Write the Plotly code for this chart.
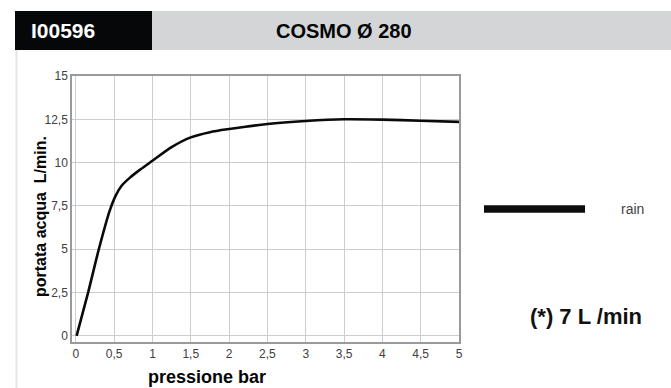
import plotly.graph_objects as go

# ---- data ----
pressure_bar = [0.01, 0.16, 0.30, 0.44, 0.52, 0.60, 0.71, 0.84, 0.99, 1.25, 1.5, 1.75, 2.0, 2.5, 3.0, 3.5, 4.0, 4.5, 5.0]
flow_l_min = [0.0, 2.5, 5.0, 7.2, 8.1, 8.68, 9.15, 9.6, 10.08, 10.9, 11.46, 11.76, 11.94, 12.23, 12.4, 12.5, 12.48, 12.42, 12.35]
series_name = "rain"
x_tick_vals = [0, 0.5, 1, 1.5, 2, 2.5, 3, 3.5, 4, 4.5, 5]
x_tick_text = ["0", "0,5", "1", "1,5", "2", "2,5", "3", "3,5", "4", "4,5", "5"]
y_tick_vals = [0, 2.5, 5, 7.5, 10, 12.5, 15]
y_tick_text = ["0", "2,5", "5", "7,5", "10", "12,5", "15"]
code_label = "I00596"
model_label = "COSMO Ø 280"
note_label = "(*) 7 L /min"

W, H = 671, 388
L, R, T, B = 72, 212, 76, 46
PW, PH = W - L - R, H - T - B


def px(x):
    return (x - L) / PW


def py(y):
    return (H - B - y) / PH


FONT = "Liberation Sans, Arial, Helvetica, sans-serif"

fig = go.Figure()
fig.add_trace(go.Scatter(
    x=pressure_bar, y=flow_l_min, mode="lines", name=series_name,
    line=dict(color="#0a0a0a", width=2.6, shape="spline", smoothing=0.8),
    showlegend=False, hoverinfo="x+y",
))

shapes = [
    # header boxes
    dict(type="rect", xref="paper", yref="paper", x0=px(15), x1=px(152), y0=py(50), y1=py(11),
         fillcolor="#050708", line=dict(width=0), layer="below"),
    dict(type="rect", xref="paper", yref="paper", x0=px(152), x1=px(671), y0=py(50), y1=py(11),
         fillcolor="#d4d5d7", line=dict(width=0), layer="below"),
    # left panel border
    dict(type="line", xref="paper", yref="paper", x0=px(16.5), x1=px(16.5), y0=py(50), y1=py(388),
         line=dict(color="#e6e6e6", width=2)),
    # legend line
    dict(type="line", xref="paper", yref="paper", x0=px(484), x1=px(585), y0=py(209), y1=py(209),
         line=dict(color="#0d0d0d", width=7.5)),
]

annotations = [
    dict(text="<b>" + code_label + "</b>", xref="paper", yref="paper", x=px(29), y=py(31),
         xanchor="left", yanchor="middle", showarrow=False,
         font=dict(family=FONT, size=21, color="#ffffff")),
    dict(text="<b>" + model_label + "</b>", xref="paper", yref="paper", x=px(344), y=py(31),
         xanchor="center", yanchor="middle", showarrow=False,
         font=dict(family=FONT, size=20, color="#050505")),
    dict(text="<b>portata acqua\u00a0 L/min.</b>", xref="paper", yref="paper", x=px(40), y=py(217),
         xanchor="center", yanchor="middle", textangle=-90, showarrow=False,
         font=dict(family=FONT, size=16, color="#050505")),
    dict(text="<b>pressione bar</b>", xref="paper", yref="paper", x=px(207), y=py(377),
         xanchor="center", yanchor="middle", showarrow=False,
         font=dict(family=FONT, size=18, color="#050505")),
    dict(text=series_name, xref="paper", yref="paper", x=px(632), y=py(209),
         xanchor="center", yanchor="middle", showarrow=False,
         font=dict(family=FONT, size=14, color="#444444")),
    dict(text="<b>" + note_label + "</b>", xref="paper", yref="paper", x=px(586), y=py(316),
         xanchor="center", yanchor="middle", showarrow=False,
         font=dict(family=FONT, size=22, color="#111111")),
]

fig.update_layout(
    width=W, height=H,
    margin=dict(l=L, r=R, t=T, b=B, pad=0),
    paper_bgcolor="#ffffff", plot_bgcolor="#ffffff",
    shapes=shapes, annotations=annotations,
    font=dict(family=FONT, size=12, color="#404040"),
    xaxis=dict(range=[-0.05, 5], tickvals=x_tick_vals, ticktext=x_tick_text,
               showgrid=True, gridcolor="#cdcdcd", gridwidth=1, zeroline=False,
               showline=True, linecolor="#9a9a9a", linewidth=1.5, mirror=True,
               ticks="", tickfont=dict(size=12, color="#404040")),
    yaxis=dict(range=[-0.35, 15], tickvals=y_tick_vals, ticktext=y_tick_text,
               showgrid=True, gridcolor="#cdcdcd", gridwidth=1, zeroline=False,
               showline=True, linecolor="#9a9a9a", linewidth=1.5, mirror=True,
               ticks="", tickfont=dict(size=12, color="#404040")),
)

fig.write_html("out.html", config={"displayModeBar": False},
               post_script="document.body.style.margin='0';")
